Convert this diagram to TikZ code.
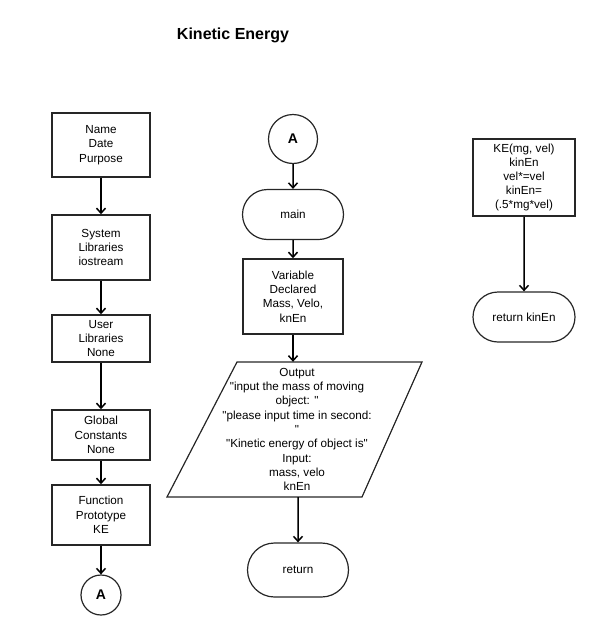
\documentclass[tikz,border=0pt]{standalone}
\usepackage{fontspec}
\setmainfont{Liberation Sans}[Ligatures=TeXOff]
\usetikzlibrary{arrows.meta,shapes.misc,calc}
\begin{document}
\begin{tikzpicture}[x=1pt,y=-1pt,
  txt/.style={align=center,font=\fontsize{11.7}{14.3}\selectfont,inner sep=0pt},
  box/.style={txt,draw=black!85,line width=1.5pt,minimum width=98pt},
  term/.style={txt,draw=black!85,line width=1.2pt,rounded rectangle,minimum width=101pt,minimum height=50pt},
  conn/.style={circle,draw=black!85,line width=1.2pt,inner sep=0pt,font=\fontsize{14}{16}\selectfont\bfseries},
  arr/.style={-{Straight Barb[length=5pt,width=9pt]},line width=1.5pt,black}]
\useasboundingbox (0,0) rectangle (600,635);
\node[font=\fontsize{16}{18}\selectfont\bfseries] (title) at (233,35) {Kinetic Energy};
% left column
\node[box,minimum height=64pt] (n1) at (101,145) {Name\\Date\\Purpose};
\node[box,minimum height=65pt] (n2) at (101,247.5) {System\\Libraries\\iostream};
\node[box,minimum height=47pt] (n3) at (101,338.5) {User\\Libraries\\None};
\node[box,minimum height=50pt] (n4) at (101,435) {Global\\Constants\\None};
\node[box,minimum height=60pt] (n5) at (101,515) {Function\\Prototype\\KE};
\node[conn,minimum size=40pt] (c1) at (101,595) {A};
\draw[arr] (n1) -- (n2);
\draw[arr] (n2) -- (n3);
\draw[arr] (n3) -- (n4);
\draw[arr] (n4) -- (n5);
\draw[arr] (n5) -- (c1);
% middle column
\node[conn,minimum size=49pt] (c2) at (293,139) {A};
\node[term] (main) at (293,214.5) {main};
\node[box,minimum width=100pt,minimum height=75pt] (var) at (293,296.5) {Variable\\Declared\\Mass, Velo,\\knEn};
\node[txt,minimum height=135pt] (io) at (297,429.5) {Output\\"input the mass of moving\\object: "\\"please input time in second:\\"\\"Kinetic energy of object is"\\Input:\\mass, velo\\knEn};
\draw[draw=black!85,line width=1.2pt,line join=miter] ($(io.center)+(-60,-67.5)$) -- ($(io.center)+(125,-67.5)$) -- ($(io.center)+(65,67.5)$) -- ($(io.center)+(-130,67.5)$) -- cycle;
\node[term,minimum height=54pt] (ret) at (298,570) {return};
\draw[arr] (c2) -- (main);
\draw[arr] (main) -- (var);
\draw[arr] (var) -- (var |- io.north);
\draw[arr] (io.south -| ret) -- (ret);
% right column
\node[box,minimum width=102pt,minimum height=77pt,font=\fontsize{11.7}{13.8}\selectfont] (ke) at (524,177.5) {KE(mg, vel)\\kinEn\\vel*=vel\\kinEn=\\(.5*mg*vel)};
\node[term,minimum width=102pt,minimum height=50pt] (rk) at (524,317) {return kinEn};
\draw[arr] (ke) -- (rk);
\end{tikzpicture}
\end{document}
